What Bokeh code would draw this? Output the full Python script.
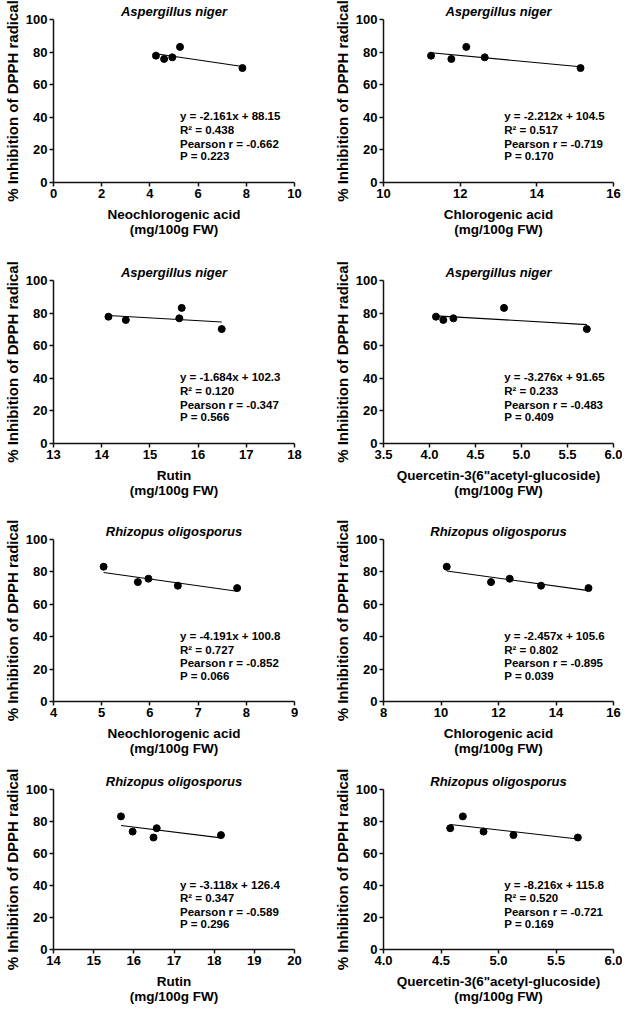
from bokeh.plotting import figure
from bokeh.layouts import column, row
from bokeh.models import Range1d, FixedTicker, PrintfTickFormatter
from bokeh.core.properties import value
from bokeh.embed import file_html
from bokeh.resources import INLINE

FONT = "Liberation Sans"
FONT_V = value(FONT)

titles = ["Aspergillus niger"] * 4 + ["Rhizopus oligosporus"] * 4
xlabels = ["Neochlorogenic acid", "Chlorogenic acid", "Rutin",
           "Quercetin-3(6\"acetyl-glucoside)"] * 2
unit_label = "(mg/100g FW)"
ylabel = "% Inhibition of DPPH radical"

x_ticks = [
    [0, 2, 4, 6, 8, 10],
    [10, 12, 14, 16],
    [13, 14, 15, 16, 17, 18],
    [3.5, 4.0, 4.5, 5.0, 5.5, 6.0],
    [4, 5, 6, 7, 8, 9],
    [8, 10, 12, 14, 16],
    [14, 15, 16, 17, 18, 19, 20],
    [4.0, 4.5, 5.0, 5.5, 6.0],
]
x_decimals = [0, 0, 0, 1, 0, 0, 0, 1]
y_ticks = [0, 20, 40, 60, 80, 100]

x_vals = [
    [4.25, 4.59, 4.93, 5.25, 7.84],
    [11.24, 11.77, 12.16, 12.64, 15.14],
    [14.14, 14.50, 15.61, 15.66, 16.49],
    [4.07, 4.15, 4.26, 4.81, 5.71],
    [5.04, 5.75, 5.97, 6.58, 7.81],
    [10.20, 11.74, 12.39, 13.48, 15.13],
    [15.68, 15.97, 16.49, 16.57, 18.17],
    [4.58, 4.69, 4.87, 5.13, 5.69],
]
y_vals = [
    [77.8, 75.8, 76.8, 83.2, 70.2],
    [77.8, 75.8, 83.2, 76.8, 70.2],
    [77.8, 75.8, 76.8, 83.2, 70.2],
    [77.8, 75.8, 76.8, 83.2, 70.2],
    [83.2, 73.7, 75.8, 71.5, 70.0],
    [83.2, 73.7, 75.8, 71.5, 70.0],
    [83.2, 73.7, 70.0, 75.8, 71.5],
    [75.8, 83.2, 73.7, 71.5, 70.0],
]
slopes = [-2.161, -2.212, -1.684, -3.276, -4.191, -2.457, -3.118, -8.216]
intercepts = [88.15, 104.5, 102.3, 91.65, 100.8, 105.6, 126.4, 115.8]
r2_vals = [0.438, 0.517, 0.120, 0.233, 0.727, 0.802, 0.347, 0.520]
pearson_vals = [-0.662, -0.719, -0.347, -0.483, -0.852, -0.895, -0.589, -0.721]
p_vals = [0.223, 0.170, 0.566, 0.409, 0.066, 0.039, 0.296, 0.169]

# layout
row_heights = [258, 258, 252, 238]
row_top = [19, 22, 23, 21]
row_frame_h = [163, 163, 162, 163]
LEFT_W, RIGHT_W = 326, 296


def make_fig(i, r, left):
    h = row_heights[r]
    w = LEFT_W if left else RIGHT_W
    xs = x_ticks[i]
    p = figure(width=w, height=h, output_backend="svg", toolbar_location=None,
               x_range=Range1d(xs[0], xs[-1]), y_range=Range1d(0, 100),
               min_border_left=42 if left else 57,
               min_border_right=32 if left else 9,
               min_border_top=row_top[r],
               min_border_bottom=h - row_top[r] - row_frame_h[r],
               title=titles[i])
    p.outline_line_color = None
    p.background_fill_color = "white"
    p.border_fill_color = "white"
    p.grid.visible = False

    p.title.text_font = FONT
    p.title.text_font_style = "bold italic"
    p.title.text_font_size = "13px"
    p.title.align = "center"
    p.title.standoff = 2
    p.title.text_color = "black"

    for ax in (p.xaxis[0], p.yaxis[0]):
        ax.axis_line_color = "#111111"
        ax.axis_line_width = 1.5
        ax.major_tick_line_color = "#111111"
        ax.major_tick_line_width = 1.5
        ax.major_tick_out = 4
        ax.major_tick_in = 0
        ax.minor_tick_line_color = None
        ax.major_label_text_font = FONT
        ax.major_label_text_font_style = "bold"
        ax.major_label_text_font_size = "13px"
        ax.major_label_text_color = "black"
        ax.major_label_standoff = 2
        ax.axis_label_text_font = FONT
        ax.axis_label_text_font_style = "bold"
        ax.axis_label_text_color = "black"

    p.xaxis[0].ticker = FixedTicker(ticks=xs)
    p.xaxis[0].formatter = PrintfTickFormatter(format="%." + str(x_decimals[i]) + "f")
    p.xaxis[0].axis_label = xlabels[i] + "\n" + unit_label
    p.xaxis[0].axis_label_text_font_size = "13.5px"
    p.xaxis[0].axis_label_text_line_height = 1.0
    p.xaxis[0].axis_label_standoff = 6

    p.yaxis[0].ticker = FixedTicker(ticks=y_ticks)
    p.yaxis[0].axis_label = ylabel
    p.yaxis[0].axis_label_text_font_size = "15px"
    p.yaxis[0].axis_label_standoff = 2

    # regression line from the fitted equation over the data span
    x0, x1 = min(x_vals[i]), max(x_vals[i])
    p.line([x0, x1], [slopes[i] * x0 + intercepts[i], slopes[i] * x1 + intercepts[i]],
           line_color="black", line_width=1.1)
    p.scatter(x_vals[i], y_vals[i], size=7, color="black")

    texts = [
        "y = %.3fx + %s" % (slopes[i], format(intercepts[i], ".4g")),
        "R\u00b2 = %.3f" % r2_vals[i],
        "Pearson r = %.3f" % pearson_vals[i],
        "P = %.3f" % p_vals[i],
    ]
    ax_x = xs[0] + 0.525 * (xs[-1] - xs[0])
    p.text(x=[ax_x] * 4, y=[40.5, 32.0, 23.5, 16.0], text=texts,
           text_font=FONT_V, text_font_style="bold", text_font_size="11.5px",
           text_color="black", text_baseline="middle", text_align="left")
    return p


rows = []
for r in range(4):
    rows.append(row(make_fig(2 * r, r, True), make_fig(2 * r + 1, r, False), spacing=0))
layout = column(*rows, spacing=0)

open("out.html", "w").write(file_html(layout, INLINE))
